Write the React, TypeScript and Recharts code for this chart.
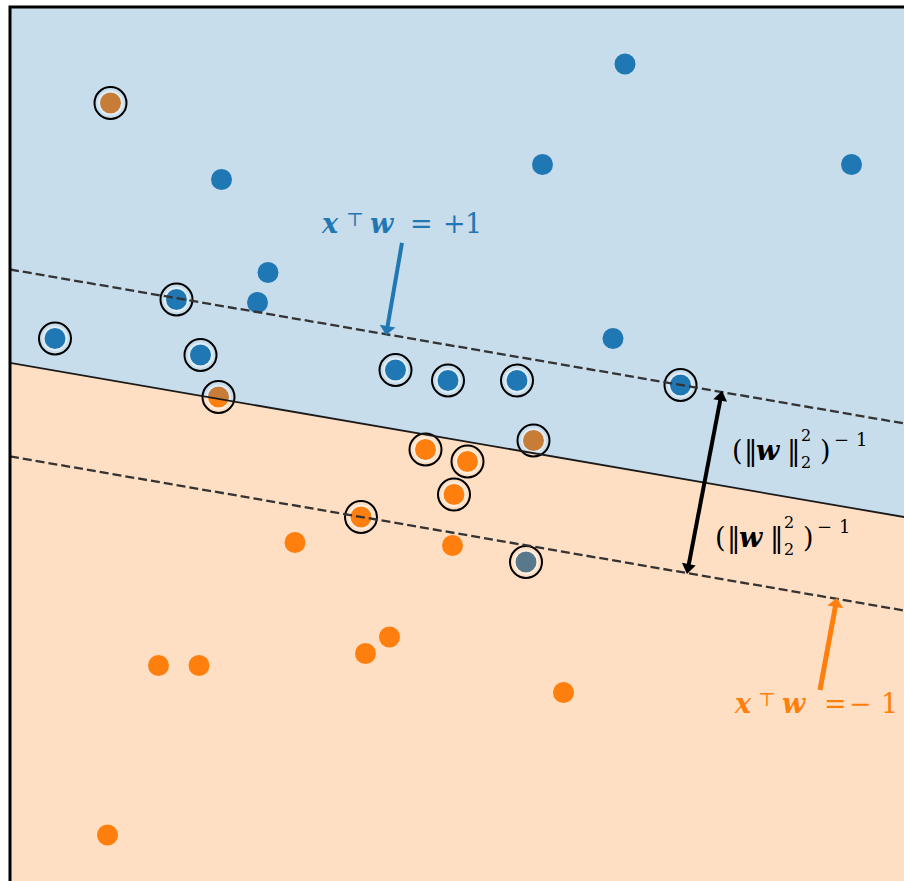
import React from "react";
import {
  ComposedChart,
  XAxis,
  YAxis,
  Scatter,
  Line,
  Area,
  ReferenceArea,
  ReferenceLine,
  ReferenceDot,
} from "recharts";

const BLUE = "#1f77b4";
const ORANGE = "#ff7f0e";

// class +1 samples
const blueX = [1.1, 0.55, 2.61, -1.59, -1.28, -1.35, 1.02, -1.89, -2.7, -1.73, -0.43, -0.08, 0.38, 1.47, 0.44];
const blueY = [2.62, 1.95, 1.95, 1.85, 1.23, 1.03, 0.79, 1.05, 0.79, 0.68, 0.58, 0.51, 0.51, 0.48, -0.7];
const blueSV = [0, 0, 0, 0, 0, 0, 0, 1, 1, 1, 1, 1, 1, 1, 1];

// class -1 samples
const orangeX = [-1.1, -0.05, -0.47, -0.63, -2.01, -1.74, 0.69, -2.35, -0.23, 0.05, -0.04, -0.66, -2.33, -1.61, 0.49];
const orangeY = [-0.57, -0.59, -1.2, -1.31, -1.39, -1.39, -1.57, -2.52, 0.05, -0.03, -0.25, -0.4, 2.36, 0.4, 0.11];
const orangeSV = [0, 0, 0, 0, 0, 0, 0, 0, 1, 1, 1, 1, 1, 1, 1];

// separating line and margins, y at x = -3 and x = 3
const lineX = [-3, 3];
const boundaryY = [0.627, -0.407];
const upperY = [1.25, 0.217];
const lowerY = [0.004, -1.03];

const bluePts = blueX.map((x, i) => ({ x, y: blueY[i], sv: blueSV[i] }));
const orangePts = orangeX.map((x, i) => ({ x, y: orangeY[i], sv: orangeSV[i] }));
const rings = [...bluePts, ...orangePts].filter((p) => p.sv);
const toLine = (ys: number[]) => lineX.map((x, i) => ({ x, y: ys[i] }));

type Glyph = { t: string; dx: number; dy?: number; size?: number; bi?: boolean };

const plusGlyphs: Glyph[] = [
  { t: "x", dx: 0, bi: true },
  { t: "⊤", dx: 24, dy: -7, size: 19 },
  { t: "w", dx: 48, bi: true },
  { t: "=", dx: 88 },
  { t: "+", dx: 121 },
  { t: "1", dx: 143 },
];
const minusGlyphs: Glyph[] = [
  { t: "x", dx: 0, bi: true },
  { t: "⊤", dx: 23, dy: -7, size: 19 },
  { t: "w", dx: 47, bi: true },
  { t: "=", dx: 89 },
  { t: "−", dx: 114 },
  { t: "1", dx: 146 },
];
const normGlyphs: Glyph[] = [
  { t: "(", dx: 0 },
  { t: "‖", dx: 12 },
  { t: "w", dx: 24, bi: true },
  { t: "‖", dx: 55 },
  { t: "2", dx: 69, dy: -19, size: 16 },
  { t: "2", dx: 69, dy: 8, size: 16 },
  { t: ")", dx: 88 },
  { t: "−", dx: 102, dy: -14, size: 18 },
  { t: "1", dx: 124, dy: -14, size: 18 },
];

const mathLabel = (glyphs: Glyph[], color: string) => (props: any) => {
  const { cx, cy } = props;
  if (cx == null || cy == null) return <g />;
  return (
    <g>
      {glyphs.map((g, i) => (
        <text
          key={i}
          x={cx + g.dx}
          y={cy + (g.dy ?? 0)}
          fill={color}
          fontSize={g.size ?? 27}
          fontFamily="DejaVu Serif"
          fontWeight={g.bi ? "bold" : "normal"}
          fontStyle={g.bi ? "italic" : "normal"}
        >
          {g.t}
        </text>
      ))}
    </g>
  );
};

const arrow = (color: string, width: number, both: boolean, hl = 9, hw = 8) => (props: any) => {
  const { x1, y1, x2, y2 } = props;
  if (x1 == null) return <g />;
  const len = Math.hypot(x2 - x1, y2 - y1);
  const ux = (x2 - x1) / len;
  const uy = (y2 - y1) / len;
  const nx = -uy;
  const ny = ux;
  const head = (tx: number, ty: number, dx: number, dy: number) => {
    const bx = tx - dx * hl;
    const by = ty - dy * hl;
    return `${tx},${ty} ${bx + nx * hw},${by + ny * hw} ${bx - nx * hw},${by - ny * hw}`;
  };
  const sx = both ? x1 + ux * hl * 0.8 : x1;
  const sy = both ? y1 + uy * hl * 0.8 : y1;
  return (
    <g>
      <line x1={sx} y1={sy} x2={x2 - ux * hl * 0.8} y2={y2 - uy * hl * 0.8} stroke={color} strokeWidth={width} />
      <polygon points={head(x2, y2, ux, uy)} fill={color} />
      {both && <polygon points={head(x1, y1, -ux, -uy)} fill={color} />}
    </g>
  );
};

const dotShape = (color: string) => (props: any) => (
  <circle cx={props.cx} cy={props.cy} r={10.5} fill={color} />
);

const ringShape = (props: any) => (
  <g>
    <circle cx={props.cx} cy={props.cy} r={11.6} fill="none" stroke="#ffffff" strokeOpacity={0.45} strokeWidth={2} />
    <circle cx={props.cx} cy={props.cy} r={16} fill="none" stroke="#000000" strokeWidth={2} />
  </g>
);

export default function App() {
  return (
    <div style={{ position: "absolute", left: 0, top: 0, width: 904, height: 881, overflow: "hidden", background: "#ffffff" }}>
      <ComposedChart width={920} height={920} margin={{ top: 7, left: 10, right: 10, bottom: 13 }}>
        <XAxis type="number" dataKey="x" domain={[-3, 3]} allowDataOverflow hide />
        <YAxis type="number" domain={[-3, 3]} allowDataOverflow hide />
        <Scatter data={bluePts} dataKey="y" shape={dotShape(BLUE)} isAnimationActive={false} zIndex={100} />
        <Scatter data={orangePts} dataKey="y" shape={dotShape(ORANGE)} isAnimationActive={false} zIndex={100} />
        <Area data={toLine(boundaryY)} dataKey="y" type="linear" baseValue="dataMax" stroke="none" fill={BLUE} fillOpacity={0.25} isAnimationActive={false} zIndex={200} />
        <Area data={toLine(boundaryY)} dataKey="y" type="linear" baseValue="dataMin" stroke="none" fill={ORANGE} fillOpacity={0.25} isAnimationActive={false} zIndex={200} />
        <Scatter data={rings} dataKey="y" shape={ringShape} isAnimationActive={false} zIndex={250} />
        <Line data={toLine(boundaryY)} dataKey="y" type="linear" stroke="#1a1a1a" strokeWidth={1.8} dot={false} isAnimationActive={false} zIndex={300} />
        <Line data={toLine(upperY)} dataKey="y" type="linear" stroke="#333333" strokeWidth={2.3} strokeDasharray="9 4" dot={false} isAnimationActive={false} zIndex={300} />
        <Line data={toLine(lowerY)} dataKey="y" type="linear" stroke="#333333" strokeWidth={2.3} strokeDasharray="9 4" dot={false} isAnimationActive={false} zIndex={300} />
        <ReferenceLine segment={[{ x: -0.387, y: 1.427 }, { x: -0.493, y: 0.813 }]} shape={arrow(BLUE, 4, false)} zIndex={400} />
        <ReferenceLine segment={[{ x: 2.4, y: -1.553 }, { x: 2.513, y: -0.94 }]} shape={arrow(ORANGE, 5, false)} zIndex={400} />
        <ReferenceLine segment={[{ x: 1.513, y: -0.78 }, { x: 1.747, y: 0.442 }]} shape={arrow("#000000", 4, true, 10, 7)} zIndex={400} />
        <ReferenceDot x={-0.92} y={1.493} shape={mathLabel(plusGlyphs, BLUE)} zIndex={400} />
        <ReferenceDot x={1.833} y={-1.707} shape={mathLabel(minusGlyphs, ORANGE)} zIndex={400} />
        <ReferenceDot x={1.813} y={-0.02} shape={mathLabel(normGlyphs, "#000000")} zIndex={400} />
        <ReferenceDot x={1.7} y={-0.6} shape={mathLabel(normGlyphs, "#000000")} zIndex={400} />
        <ReferenceArea x1={-3} x2={3} y1={-3} y2={3} fill="none" stroke="#000000" strokeWidth={3} zIndex={500} />
      </ComposedChart>
    </div>
  );
}
